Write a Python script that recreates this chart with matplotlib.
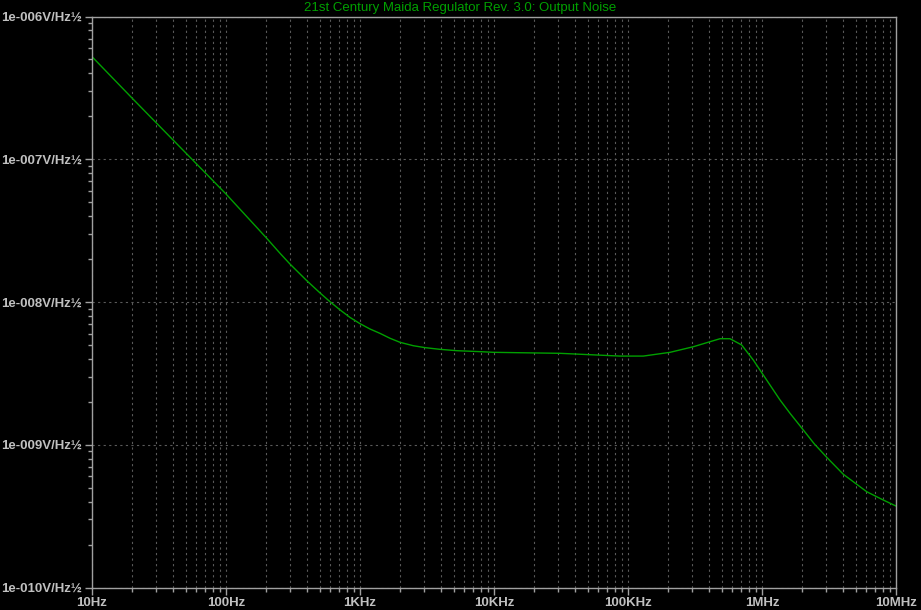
import matplotlib
matplotlib.use("Agg")
import matplotlib.pyplot as plt
from matplotlib.ticker import LogLocator, FixedLocator, NullFormatter

# Data (frequency in Hz, noise density in V/sqrt(Hz))
freq_hz = [10, 20.0, 30.4, 55.5, 100, 201, 253, 300, 400, 503, 597, 709, 842,
           1000, 1187, 1410, 1675, 1988, 2499, 3056, 3954, 5267, 7863, 10000,
           31090, 87150, 130100, 205800, 307100, 409200, 486000, 577000,
           705300, 861300, 1022600, 1362200, 1618000, 2033000, 2444000,
           3040000, 4043000, 6043000, 8040000, 10000000]
noise = [5.23e-7, 2.67e-7, 1.786e-7, 1.004e-7, 5.71e-8, 2.80e-8, 2.194e-8,
         1.846e-8, 1.413e-8, 1.158e-8, 1.005e-8, 8.81e-9, 7.80e-9, 7.05e-9,
         6.47e-9, 6.03e-9, 5.57e-9, 5.22e-9, 4.94e-9, 4.79e-9, 4.66e-9,
         4.56e-9, 4.49e-9, 4.44e-9, 4.37e-9, 4.18e-9, 4.18e-9, 4.44e-9,
         4.86e-9, 5.27e-9, 5.53e-9, 5.53e-9, 5.00e-9, 3.92e-9, 3.08e-9,
         2.06e-9, 1.661e-9, 1.27e-9, 1.02e-9, 8.17e-10, 6.21e-10,
         4.69e-10, 4.10e-10, 3.72e-10]

x_major = [10, 100, 1e3, 1e4, 1e5, 1e6, 1e7]
x_labels = ["10Hz", "100Hz", "1KHz", "10KHz", "100KHz", "1MHz", "10MHz"]
y_major = [1e-10, 1e-9, 1e-8, 1e-7, 1e-6]
y_labels = ["1e-010V/Hz½", "1e-009V/Hz½", "1e-008V/Hz½", "1e-007V/Hz½", "1e-006V/Hz½"]
title = "21st Century Maida Regulator Rev. 3.0: Output Noise"

bg = "#000000"
frame = "#a0a0a0"
textc = "#c0c0c0"
gridc = "#5a5a5a"
green = "#00a000"

fig = plt.figure(figsize=(9.21, 6.10), dpi=100, facecolor=bg)
ax = fig.add_axes([92/921, 1-587.5/610, (896-92)/921, (587.5-16.5)/610])
ax.set_facecolor(bg)
ax.set_xscale("log")
ax.set_yscale("log")
ax.set_xlim(10, 1e7)
ax.set_ylim(1e-10, 1e-6)

ax.plot(freq_hz, noise, color=green, lw=1.0)

ax.xaxis.set_major_locator(FixedLocator(x_major))
ax.set_xticklabels(x_labels)
ax.xaxis.set_minor_locator(LogLocator(base=10, subs=range(2, 10), numticks=50))
ax.xaxis.set_minor_formatter(NullFormatter())
ax.yaxis.set_major_locator(FixedLocator(y_major))
ax.set_yticklabels(y_labels)
ax.yaxis.set_minor_locator(LogLocator(base=10, subs=range(2, 10), numticks=50))
ax.yaxis.set_minor_formatter(NullFormatter())

for sp in ax.spines.values():
    sp.set_color(frame)
    sp.set_linewidth(1.0)

ax.tick_params(axis="both", which="major", color=frame, length=5, width=1,
               labelcolor=textc, labelsize=9.5)
ax.tick_params(axis="both", which="minor", color=frame, length=3, width=1)
ax.tick_params(axis="x", which="major", pad=2)
ax.tick_params(axis="y", which="major", pad=2)
for lab in ax.get_xticklabels() + ax.get_yticklabels():
    lab.set_fontweight("bold")
    lab.set_fontfamily("Liberation Sans")

ax.grid(True, which="both", axis="x", color=gridc, linestyle=(0, (2, 3)), lw=0.8)
ax.grid(True, which="major", axis="y", color=gridc, linestyle=(0, (2, 3)), lw=0.8)

fig.text(0.5, 1-8/610, title, ha="center", va="center", color=green,
         fontsize=9.5, fontfamily="Liberation Sans")

fig.savefig("out.png", dpi=100, facecolor=bg)
